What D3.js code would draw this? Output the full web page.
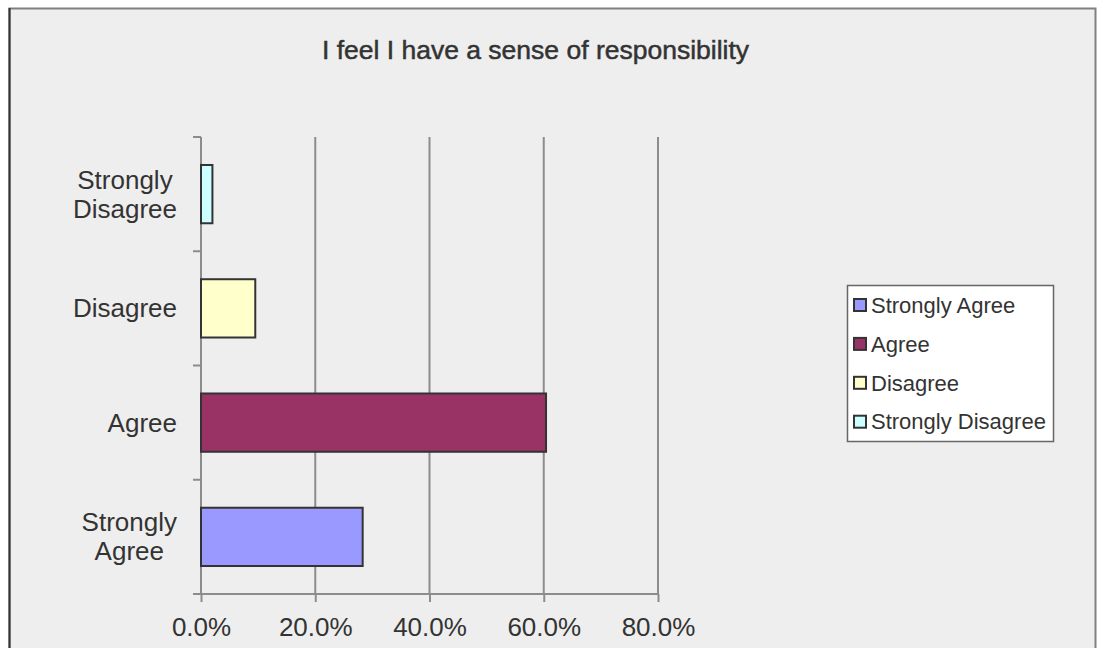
<!DOCTYPE html>
<html>
<head>
<meta charset="utf-8">
<script src="https://cdn.jsdelivr.net/npm/d3@7"></script>
<style>
  body { margin: 0; background: #ffffff; }
  text { font-family: "Liberation Sans", Arial, sans-serif; fill: #333; }
</style>
</head>
<body>
<svg id="chart" width="1097" height="648"></svg>
<script>
var categories = ["Strongly Agree", "Agree", "Disagree", "Strongly Disagree"];
var values = [0.283, 0.604, 0.095, 0.02];
var colours = ["#9999ff", "#993366", "#ffffcc", "#ccffff"];
var xTicks = [0, 0.2, 0.4, 0.6, 0.8];
var title = "I feel I have a sense of responsibility";

var svg = d3.select("#chart");

// chart area background + frame
svg.append("rect")
  .attr("x", 9.5).attr("y", 8.5)
  .attr("width", 1086).attr("height", 645)
  .attr("fill", "#eeeeee")
  .attr("stroke", "#808080").attr("stroke-width", 2);
svg.append("line")
  .attr("x1", 9.5).attr("x2", 9.5).attr("y1", 8).attr("y2", 648)
  .attr("stroke", "#333").attr("stroke-width", 2);

var plot = {left: 201, right: 658, top: 137, bottom: 594};

var x = d3.scaleLinear().domain([0, 0.8]).range([plot.left, plot.right]);
var pad = 0.49;
var y = d3.scaleBand().domain(categories).range([plot.bottom, plot.top])
  .paddingInner(pad).paddingOuter(pad / 2);

// vertical gridlines
svg.append("g").selectAll("line")
  .data(xTicks.slice(1))
  .join("line")
  .attr("x1", function(d) { return x(d); })
  .attr("x2", function(d) { return x(d); })
  .attr("y1", plot.top).attr("y2", plot.bottom)
  .attr("stroke", "#8c8c8c").attr("stroke-width", 2);

// x axis
var xAxis = svg.append("g")
  .attr("transform", "translate(0," + plot.bottom + ")")
  .call(d3.axisBottom(x).tickValues(xTicks).tickFormat(d3.format(".1%")).tickSize(8).tickSizeOuter(0));
xAxis.select(".domain").attr("stroke", "#8c8c8c").attr("stroke-width", 2)
  .attr("d", "M" + (plot.left - 8) + ",0H" + plot.right);
xAxis.selectAll(".tick line").attr("stroke", "#8c8c8c").attr("stroke-width", 2);
xAxis.selectAll(".tick text")
  .attr("y", 23.5).attr("dy", "0.71em")
  .style("font-size", "26px").style("font-family", "'Liberation Sans', Arial, sans-serif")
  .attr("fill", "#333");

// y axis line and ticks at band boundaries
var step = y.step();
var bounds = d3.range(categories.length + 1).map(function(i) { return plot.bottom - i * step; });
svg.append("line")
  .attr("x1", plot.left).attr("x2", plot.left)
  .attr("y1", plot.top).attr("y2", plot.bottom)
  .attr("stroke", "#8c8c8c").attr("stroke-width", 2);
svg.append("g").selectAll("line")
  .data(bounds)
  .join("line")
  .attr("x1", plot.left - 8).attr("x2", plot.left)
  .attr("y1", function(d) { return d; }).attr("y2", function(d) { return d; })
  .attr("stroke", "#8c8c8c").attr("stroke-width", 2);

// category labels: lines centred on each other, block right-aligned
var labelLines = {
  "Strongly Agree": ["Strongly", "Agree"],
  "Agree": ["Agree"],
  "Disagree": ["Disagree"],
  "Strongly Disagree": ["Strongly", "Disagree"]
};
var labelRight = plot.left - 24;
categories.forEach(function(c) {
  var lines = labelLines[c];
  var cy = y(c) + y.bandwidth() / 2;
  var lh = 29;
  var t = svg.append("text")
    .attr("text-anchor", "middle")
    .style("font-size", "26px");
  var spans = lines.map(function(l, i) {
    return t.append("tspan")
      .attr("y", cy + (i - (lines.length - 1) / 2) * lh)
      .attr("dy", "0.35em")
      .text(l);
  });
  var w = d3.max(spans, function(s) { return s.node().getComputedTextLength(); });
  spans.forEach(function(s) { s.attr("x", labelRight - w / 2); });
});

// bars
svg.append("g").selectAll("rect")
  .data(categories)
  .join("rect")
  .attr("x", x(0))
  .attr("y", function(d) { return y(d); })
  .attr("width", function(d, i) { return x(values[i]) - x(0); })
  .attr("height", y.bandwidth())
  .attr("fill", function(d, i) { return colours[i]; })
  .attr("stroke", "#333").attr("stroke-width", 2);

// title
svg.append("text")
  .attr("x", 535.5).attr("y", 59)
  .attr("text-anchor", "middle")
  .style("font-size", "26.5px")
  .attr("stroke", "#333").attr("stroke-width", 0.5)
  .text(title);

// legend
var legend = svg.append("g").attr("transform", "translate(847,285)");
legend.append("rect")
  .attr("x", 0.5).attr("y", 0.5).attr("width", 206).attr("height", 156)
  .attr("fill", "#ffffff").attr("stroke", "#666").attr("stroke-width", 1.5);
var item = legend.selectAll("g.item")
  .data(categories)
  .join("g").attr("class", "item")
  .attr("transform", function(d, i) { return "translate(0," + (20 + i * 38.9) + ")"; });
item.append("rect")
  .attr("x", 7).attr("y", -6).attr("width", 12).attr("height", 12)
  .attr("fill", function(d, i) { return colours[i]; })
  .attr("stroke", "#333").attr("stroke-width", 2);
item.append("text")
  .attr("x", 24).attr("dy", "0.35em")
  .style("font-size", "22px")
  .text(function(d) { return d; });
</script>
</body>
</html>
